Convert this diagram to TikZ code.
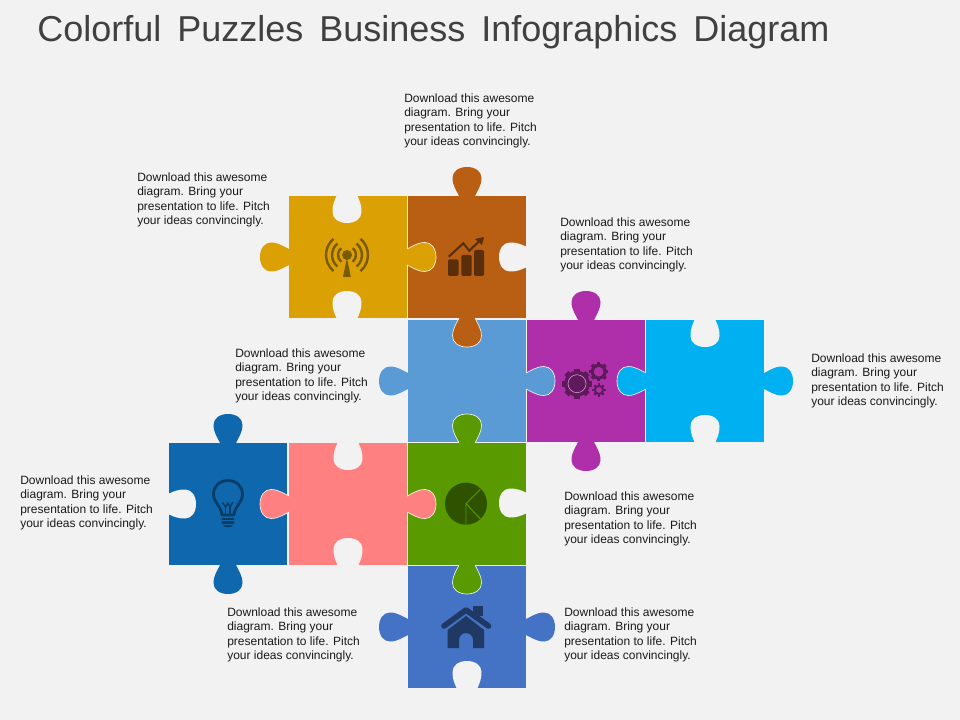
\documentclass[tikz,border=0pt]{standalone}
\usepackage{fontspec}
\setmainfont{Liberation Sans}
\definecolor{bgc}{HTML}{F2F2F2}
\definecolor{cyel}{HTML}{DBA003}
\definecolor{cbro}{HTML}{B85F14}
\definecolor{clbl}{HTML}{5B9BD5}
\definecolor{cpur}{HTML}{AE2FA9}
\definecolor{ccya}{HTML}{00B0F0}
\definecolor{cblu}{HTML}{0F68AE}
\definecolor{cpin}{HTML}{FF8080}
\definecolor{cgre}{HTML}{589A00}
\definecolor{cnav}{HTML}{4472C4}
\definecolor{iyel}{HTML}{7A5A02}
\definecolor{ibro}{HTML}{5A2E0A}
\definecolor{ipur}{HTML}{5E1A5B}
\definecolor{iblu}{HTML}{0A3D66}
\definecolor{igre}{HTML}{2F5200}
\definecolor{inav}{HTML}{1F3864}
\definecolor{txt}{HTML}{1A1A1A}
\definecolor{ttl}{HTML}{404040}
\newfontfamily\titlefont[WordSpace=1.6]{Liberation Sans}
\tikzset{
  blurb/.style={anchor=north west,inner sep=0pt,align=left,text=txt,font=\fontsize{9}{10.8}\selectfont},
}
\newcommand\tabcurve{(0,-8) .. controls (4,-9.6) and (10,-14.5) .. (18,-14.5) .. controls (24.5,-14.5) and (29,-8.5) .. (29,0) .. controls (29,8.5) and (24.5,14.5) .. (18,14.5) .. controls (10,14.5) and (4,9.6) .. (0,8)}
% x, y, direction, colour
\newcommand\ptab[4]{\fill[#4,shift={(#1,#2)},rotate=#3] (-2,-8) -- \tabcurve -- (-2,8) -- cycle;}
\newcommand\otab[4]{\ptab{#1}{#2}{#3}{#4}\draw[white!90!#4,line width=0.5pt,shift={(#1,#2)},rotate=#3] \tabcurve;}
% slot: a hole of the tab's shape with a wider mouth
\newcommand\pslot[3]{\fill[bgc,shift={(#1,#2)},rotate=#3] (-2,-11) -- (2,-10.5) .. controls (7,-12.5) and (10,-14.5) .. (18,-14.5) .. controls (24.5,-14.5) and (29,-8.5) .. (29,0) .. controls (29,8.5) and (24.5,14.5) .. (18,14.5) .. controls (10,14.5) and (7,12.5) .. (2,10.5) -- (-2,11) -- cycle;}
\newcommand\gearicon[6]{% x y radius hole teeth toothlen
  \fill[ipur,even odd rule] (#1,#2) circle[radius=#3] (#1,#2) circle[radius=#4];
  \foreach \a in {1,...,#5}{\fill[ipur,shift={(#1,#2)},rotate=\a*360/#5] (#3-1,-#3*0.22) rectangle (#3+#6,#3*0.22);}
}
\begin{document}
\begin{tikzpicture}[x=0.75pt,y=-0.75pt]
\useasboundingbox (0,0) rectangle (960,720);
\fill[bgc] (0,0) rectangle (960,720);
\node[anchor=base west,inner sep=0pt,text=ttl,font=\titlefont\fontsize{27}{30}\selectfont] (title) at (37,41.5) {Colorful Puzzles Business Infographics Diagram};
% squares
\fill[cyel] (289,196) rectangle (407,318);
\fill[cbro] (408,196) rectangle (526,318);
\fill[clbl] (408,320) rectangle (526,442);
\fill[cpur] (527,320) rectangle (645,442);
\fill[ccya] (646,320) rectangle (764,442);
\fill[cblu] (169,443) rectangle (287,565);
\fill[cpin] (289,443) rectangle (407,565);
\fill[cgre] (408,443) rectangle (526,565);
\fill[cnav] (408,566) rectangle (526,688);
% slots
\pslot{347}{194}{270}
\pslot{347}{320}{90}
\pslot{528}{257}{180}
\pslot{705}{318}{270}
\pslot{705}{444}{90}
\pslot{167}{504}{0}
\pslot{348}{441}{270}
\pslot{348}{567}{90}
\pslot{528}{503}{180}
\pslot{467}{690}{90}
% free tabs
\ptab{289}{257}{180}{cyel}
\ptab{467}{196}{90}{cbro}
\ptab{408}{381}{180}{clbl}
\ptab{586}{320}{90}{cpur}
\ptab{586}{442}{270}{cpur}
\ptab{764}{381}{0}{ccya}
\ptab{228}{443}{90}{cblu}
\ptab{228}{565}{270}{cblu}
\ptab{408}{627}{180}{cnav}
\ptab{526}{627}{0}{cnav}
% interlocking tabs
\otab{407}{257}{0}{cyel}
\otab{467}{318}{270}{cbro}
\otab{526}{381}{0}{clbl}
\otab{646}{381}{180}{ccya}
\otab{289}{504}{180}{cpin}
\otab{407}{504}{0}{cpin}
\otab{467}{443}{90}{cgre}
\otab{467}{565}{270}{cgre}
% antenna icon
\fill[iyel] (347,255) circle[radius=5];
\fill[iyel] (343,277) -- (346.9,258) -- (350.8,277) -- cycle;
\foreach \r in {9,15,21}{
  \draw[iyel,line width=1.8pt] (347,255) ++(130:\r) arc[start angle=130,end angle=230,radius=\r];
  \draw[iyel,line width=1.8pt] (347,255) ++(50:\r) arc[start angle=50,end angle=-50,radius=\r];
}
% chart icon
\fill[ibro,rounded corners=1pt] (448,259.5) rectangle (458.5,276);
\fill[ibro,rounded corners=1pt] (461.3,255) rectangle (471.7,276);
\fill[ibro,rounded corners=1pt] (474,250) rectangle (484,276);
\draw[ibro,line width=1.6pt] (448.7,256.7) -- (463.3,243.3) -- (469.3,250.7) -- (479.5,241);
\fill[ibro] (484,237) -- (482,245) -- (475,239) -- cycle;
% gears icon
\gearicon{577}{383.7}{13}{0}{8}{2}
\draw[cpur!55!white,line width=0.5pt] (577,383.7) circle[radius=9];
\gearicon{598.7}{371.7}{8}{5}{8}{1.7}
\gearicon{599}{390}{5.2}{3}{8}{1.4}
% bulb icon
\draw[iblu,line width=2.1pt,line join=round] (222,515) .. controls (221,505) and (213.5,503) .. (213.5,494) .. controls (213.5,486) and (220,480.5) .. (228,480.5) .. controls (236,480.5) and (242.5,486) .. (242.5,494) .. controls (242.5,503) and (235,505) .. (234,515) -- cycle;
\draw[iblu,line width=1.1pt] (222.5,502.5) -- (225.7,507) -- (227.7,503) -- (230,507) -- (233,502);
\draw[iblu,line width=0.9pt] (225.7,507) -- (225.7,515) (230,507) -- (230,515);
\draw[iblu,line width=1.8pt,line cap=round] (222.5,518.7) -- (233.5,518.7);
\draw[iblu,line width=1.8pt,line cap=round] (222.5,522.4) -- (233.5,522.4);
\fill[iblu] (222.5,525) -- (233.5,525) .. controls (232,528) and (224,528) .. (222.5,525) -- cycle;
% pie icon
\fill[igre] (466,503.7) circle[radius=21];
\draw[cgre,line width=0.7pt] (480.5,489.3) -- (466,503.7) -- (466,524.7) (466,503.7) -- (481,519.5);
% home icon
\fill[inav] (473.3,606) rectangle (483.3,616);
\draw[inav,line width=4.2pt,line cap=round,line join=round] (444,626) -- (466,610) -- (488.5,626);
\fill[inav] (447.7,630) -- (466,616) -- (484,630) -- (484,648) -- (473,648) -- (473,640) arc[start angle=0,end angle=-180,radius=7] -- (459,648) -- (447.7,648) -- cycle;
% text
\newcommand\blurbtext{Download this awesome\\diagram. Bring your\\presentation to life. Pitch\\your ideas convincingly.}
\node[blurb] (t1) at (404,93.4) {\blurbtext};
\node[blurb] (t2) at (137,172.4) {\blurbtext};
\node[blurb] (t3) at (560,217.4) {\blurbtext};
\node[blurb] (t4) at (235,348.4) {\blurbtext};
\node[blurb] (t5) at (811,353.4) {\blurbtext};
\node[blurb] (t6) at (20,475.4) {\blurbtext};
\node[blurb] (t7) at (564,491.4) {\blurbtext};
\node[blurb] (t8) at (227,607.4) {\blurbtext};
\node[blurb] (t9) at (564,607.4) {\blurbtext};
\end{tikzpicture}
\end{document}
